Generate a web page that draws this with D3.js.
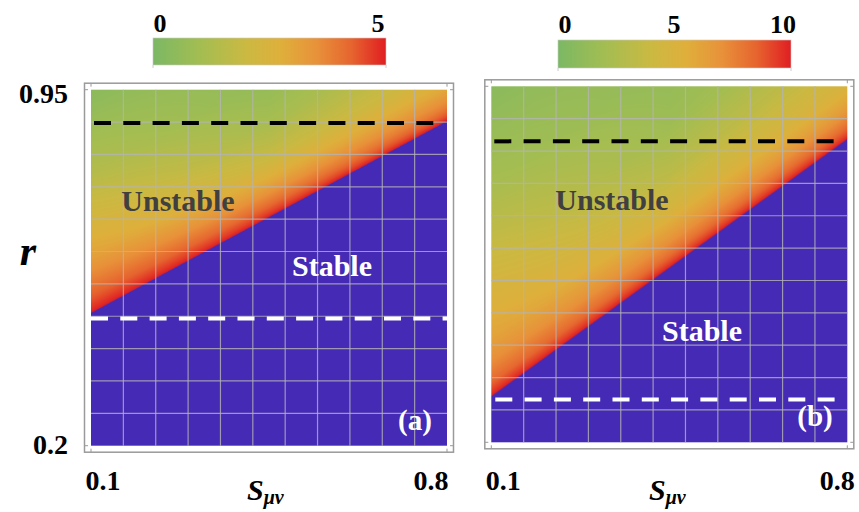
<!DOCTYPE html>
<html>
<head>
<meta charset="utf-8">
<script src="https://cdn.jsdelivr.net/npm/d3@7"></script>
<style>
  body { margin: 0; background: #fff; }
  text { font-family: "Liberation Serif", "DejaVu Serif", serif; font-weight: bold; }
</style>
</head>
<body>
<svg id="chart" width="859" height="512"></svg>
<script>
// ---- values ----
var sDomain = [0.1, 0.8];
var rDomain = [0.2, 0.95];
var xTickValues = [0.1, 0.8];
var yTickValues = [0.95, 0.2];
var gridDivisions = 11;

var panelLabels = ["(a)", "(b)"];
var colorMax = [5, 10];
var colorTicksA = [0, 5];
var colorTicksB = [0, 5, 10];

// stability boundary r_b(s), a straight line in both panels
var boundaryS = [0.1, 0.8];
var boundaryRA = [0.48, 0.884];
var boundaryRB = [0.297, 0.839];

// horizontal dashed lines (black upper, white lower)
var upperDashR = [0.88, 0.834];
var lowerDashR = [0.468, 0.29];

// colour value above the boundary: rows = r - r_b, one list per s node
var gapRows = [0, 0.01, 0.03, 0.07, 0.12, 0.2, 0.3, 0.45, 0.65];
var tableS = [0.1, 0.45, 0.8];
var valuesA = [
  [5, 4.8, 4.4, 3.8, 3.1, 2.3, 1.4, 0.5, 0.3],
  [5, 4.6, 4.0, 3.0, 2.0, 1.1, 0.5, 0.3, 0.3],
  [5, 4.5, 3.8, 2.9, 2.1, 1.5, 1.0, 0.5, 0.3]
];
var valuesB = [
  [10, 9.4, 8.4, 7.2, 6.2, 5.2, 4.0, 2.2, 0.8],
  [10, 9.2, 8.0, 6.4, 4.8, 3.2, 1.8, 1.0, 0.8],
  [10, 9.2, 8.0, 6.2, 4.8, 3.6, 2.5, 1.5, 0.8]
];

// ---- style / layout ----
var stableColor = "#452ab6";
var colorStops = [0, 0.2, 0.4, 0.55, 0.7, 0.85, 1];
var colorHex = ["#7bb864", "#a3bd52", "#cbb942", "#dfaf3b", "#e8923a", "#e6652f", "#e01e22"];
var plotBoxes = [[91, 89.7, 447, 445.7], [491.3, 86.3, 847.3, 442.3]];
var barBoxes = [[153, 38, 386, 65], [558, 40, 791, 68]];
var barLabelBase = [32, 33];
var unstablePos = [[178, 211], [612, 210]];
var stablePos = [[332, 276], [702, 341]];
var tagPos = [[415, 430], [815, 426]];
var sLabelX = [247, 649];

var svg = d3.select("#chart");
var colorScale = d3.scaleLinear().domain(colorStops).range(colorHex).interpolate(d3.interpolateRgb).clamp(true);

function drawPanel(k) {
  var box = plotBoxes[k];
  var x0 = box[0], y0 = box[1], x1 = box[2], y1 = box[3];
  var xs = d3.scaleLinear().domain(sDomain).range([x0, x1]);
  var ys = d3.scaleLinear().domain(rDomain).range([y1, y0]);
  var boundary = d3.scaleLinear().domain(boundaryS).range(k === 0 ? boundaryRA : boundaryRB);
  var table = k === 0 ? valuesA : valuesB;
  var gapScales = table.map(function(col) {
    return d3.scaleLinear().domain(gapRows).range(col).clamp(true);
  });
  var vmax = colorMax[k];
  var g = svg.append("g");

  // frame
  g.append("rect")
    .attr("x", x0 - 6.5).attr("y", y0 - 6.5)
    .attr("width", x1 - x0 + 13).attr("height", y1 - y0 + 13)
    .attr("fill", "#fff").attr("stroke", "#9a9a9a").attr("stroke-width", 1.5);
  [x0, x1].forEach(function(x) {
    g.append("line").attr("x1", x).attr("x2", x).attr("y1", y0 - 6.5).attr("y2", y0 - 3)
      .attr("stroke", "#999");
    g.append("line").attr("x1", x).attr("x2", x).attr("y1", y1 + 6.5).attr("y2", y1 + 3)
      .attr("stroke", "#999");
  });
  [y0, y1].forEach(function(y) {
    g.append("line").attr("x1", x0 - 6.5).attr("x2", x0 - 3).attr("y1", y).attr("y2", y)
      .attr("stroke", "#999");
    g.append("line").attr("x1", x1 + 6.5).attr("x2", x1 + 3).attr("y1", y).attr("y2", y)
      .attr("stroke", "#999");
  });

  // density field rendered to a canvas
  var res = 2;
  var cw = Math.round((x1 - x0) * res), ch = Math.round((y1 - y0) * res);
  var canvas = document.createElement("canvas");
  canvas.width = cw; canvas.height = ch;
  var ctx = canvas.getContext("2d");
  var img = ctx.createImageData(cw, ch);
  var blue = d3.rgb(stableColor);
  for (var j = 0; j < ch; j++) {
    var r = ys.invert(y0 + (j + 0.5) / res);
    for (var i = 0; i < cw; i++) {
      var s = xs.invert(x0 + (i + 0.5) / res);
      var gap = r - boundary(s);
      var c;
      if (gap < 0) {
        c = blue;
      } else {
        var seg = s < tableS[1] ? 0 : 1;
        var t = (s - tableS[seg]) / (tableS[seg + 1] - tableS[seg]);
        t = Math.max(0, Math.min(1, t));
        var v = gapScales[seg](gap) * (1 - t) + gapScales[seg + 1](gap) * t;
        c = d3.rgb(colorScale(v / vmax));
      }
      var p = (j * cw + i) * 4;
      img.data[p] = c.r; img.data[p + 1] = c.g; img.data[p + 2] = c.b; img.data[p + 3] = 255;
    }
  }
  ctx.putImageData(img, 0, 0);
  g.append("image")
    .attr("x", x0).attr("y", y0)
    .attr("width", x1 - x0).attr("height", y1 - y0)
    .attr("preserveAspectRatio", "none")
    .attr("href", canvas.toDataURL());

  // mesh
  var sStep = (sDomain[1] - sDomain[0]) / gridDivisions;
  var rStep = (rDomain[1] - rDomain[0]) / gridDivisions;
  d3.range(1, gridDivisions).forEach(function(n) {
    g.append("line")
      .attr("x1", xs(sDomain[0] + n * sStep)).attr("x2", xs(sDomain[0] + n * sStep))
      .attr("y1", y0).attr("y2", y1)
      .attr("stroke", "#b4b4b4").attr("stroke-opacity", 0.8).attr("stroke-width", 1.2);
    g.append("line")
      .attr("y1", ys(rDomain[0] + n * rStep)).attr("y2", ys(rDomain[0] + n * rStep))
      .attr("x1", x0).attr("x2", x1)
      .attr("stroke", "#b4b4b4").attr("stroke-opacity", 0.8).attr("stroke-width", 1.2);
  });

  // dashed reference lines
  g.append("line")
    .attr("x1", x0 + 3).attr("x2", x1 - 2)
    .attr("y1", ys(upperDashR[k])).attr("y2", ys(upperDashR[k]))
    .attr("stroke", "#000").attr("stroke-width", 4)
    .attr("stroke-dasharray", "17,12.3");
  g.append("line")
    .attr("x1", x0 + (k === 0 ? 0 : 4)).attr("x2", x1 - (k === 0 ? 0 : 12))
    .attr("y1", ys(lowerDashR[k])).attr("y2", ys(lowerDashR[k]))
    .attr("stroke", "#fff").attr("stroke-width", 4)
    .attr("stroke-dasharray", "17,12.3");

  // region labels
  g.append("text").attr("x", unstablePos[k][0]).attr("y", unstablePos[k][1])
    .attr("text-anchor", "middle").attr("font-size", 30).attr("fill", "#404040")
    .text("Unstable");
  g.append("text").attr("x", stablePos[k][0]).attr("y", stablePos[k][1])
    .attr("text-anchor", "middle").attr("font-size", 30).attr("fill", "#fff")
    .text("Stable");
  g.append("text").attr("x", tagPos[k][0]).attr("y", tagPos[k][1])
    .attr("text-anchor", "middle").attr("font-size", 29).attr("fill", "#fff")
    .text(panelLabels[k]);

  // x tick labels
  var xOff = [12, k === 0 ? -16 : -10];
  xTickValues.forEach(function(v, n) {
    svg.append("text").attr("x", xs(v) + xOff[n]).attr("y", 490)
      .attr("text-anchor", "middle").attr("font-size", 28).attr("fill", "#000")
      .text(d3.format(".1f")(v));
  });

  // x axis title S_{μν}
  var st = svg.append("text").attr("x", sLabelX[k]).attr("y", 500)
    .attr("font-size", 30).attr("font-style", "italic").attr("fill", "#000");
  st.append("tspan").text("S");
  st.append("tspan").attr("dy", 4).attr("font-size", 20).text("\u03bc\u03bd");

  // y tick labels and title on the left panel
  if (k === 0) {
    var yOff = [13, 8];
    yTickValues.forEach(function(v, n) {
      svg.append("text").attr("x", 68).attr("y", ys(v) + yOff[n])
        .attr("text-anchor", "end").attr("font-size", 28).attr("fill", "#000")
        .text(String(v));
    });
    svg.append("text").attr("x", 28).attr("y", 265)
      .attr("text-anchor", "middle").attr("font-size", 42).attr("font-style", "italic")
      .attr("fill", "#000").text("r");
  }

  // colour bar
  var bb = barBoxes[k];
  var gradId = "grad" + k;
  var grad = svg.append("defs").append("linearGradient").attr("id", gradId)
    .attr("x1", "0%").attr("x2", "100%").attr("y1", "0%").attr("y2", "0%");
  colorStops.forEach(function(t, n) {
    grad.append("stop").attr("offset", (t * 100) + "%").attr("stop-color", colorHex[n]);
  });
  svg.append("rect").attr("x", bb[0]).attr("y", bb[1])
    .attr("width", bb[2] - bb[0]).attr("height", bb[3] - bb[1])
    .attr("fill", "url(#" + gradId + ")").attr("stroke", "#c8c8c8").attr("stroke-width", 0.6);
  [bb[0], bb[2]].forEach(function(x) {
    svg.append("line").attr("x1", x).attr("x2", x).attr("y1", bb[3]).attr("y2", bb[3] + 3)
      .attr("stroke", "#ccc");
  });
  var cb = d3.scaleLinear().domain([0, vmax]).range([bb[0] + 7, bb[2] - 8]);
  (k === 0 ? colorTicksA : colorTicksB).forEach(function(v) {
    svg.append("text").attr("x", cb(v)).attr("y", barLabelBase[k])
      .attr("text-anchor", "middle").attr("font-size", 26).attr("fill", "#000")
      .text(v);
  });
}

drawPanel(0);
drawPanel(1);
</script>
</body>
</html>
